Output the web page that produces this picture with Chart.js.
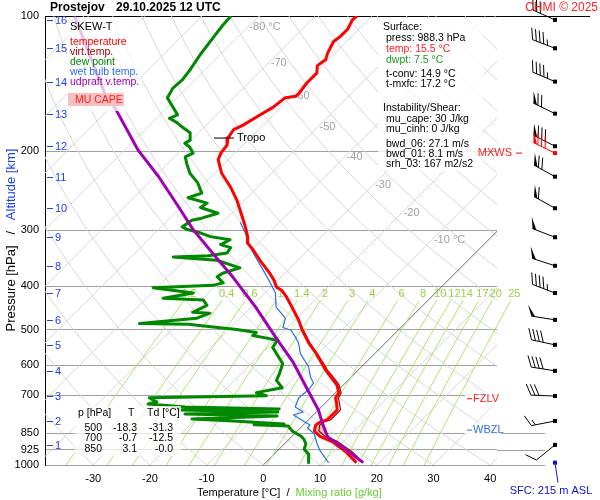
<!DOCTYPE html>
<html>
<head>
<meta charset="utf-8">
<script src="https://cdn.jsdelivr.net/npm/chart.js@4.4.1/dist/chart.umd.min.js"></script>
<style>
html, body { margin: 0; padding: 0; background: #fff; }
#wrap { width: 600px; height: 500px; }
</style>
</head>
<body>
<div id="wrap"><canvas id="skewt" width="600" height="500"></canvas></div>
<script>
// Prostejov 29.10.2025 12 UTC
const pressTicks = [100, 200, 300, 400, 500, 600, 700, 850, 925, 1000];
const tempTicks = [-30, -20, -10, 0, 10, 20, 30, 40];

const tempP = [100,102,107,111,114,121,125,129,134,141,148,151,152,160,166,175,179,187,194,202,209,224,240,257,280,292,311,320,332,350,374,387,402,408,422,445,476,500,535,563,593,614,640,664,691,709,728,754,774,794,801,815,840,862,887,934,988];
const tempT = [-62.7,-62.8,-62.0,-62.0,-62.3,-61.3,-60.5,-60.9,-59.7,-59.7,-59.3,-59.3,-60.9,-61.4,-62.3,-63.5,-64.4,-63.9,-62.8,-62.5,-61.8,-58.8,-54.9,-51.4,-47.5,-45.6,-42.9,-42.0,-39.7,-36.7,-32.7,-30.8,-29.0,-27.6,-25.6,-22.8,-19.3,-17.0,-13.5,-10.5,-7.7,-5.8,-3.3,-1.1,0.6,0.9,2.0,3.3,3.3,3.3,2.5,2.2,3.0,4.8,8.0,12.2,16.0];

const virtP = [500,535,563,593,614,640,664,691,709,728,754,774,794,801,815,840,862,887,934,988];
const virtT = [-16.8,-13.3,-10.3,-7.4,-5.5,-2.9,-0.7,1.0,1.4,2.5,3.9,3.9,3.9,3.1,2.9,3.8,5.7,9.0,13.3,17.2];

const dewP = [100,105,112,122,132,139,145,152,156,160,166,169,173,177,182,189,192,196,202,206,213,224,235,248,254,261,267,275,282,285,295,299,304,310,315,323,328,337,342,344,350,364,374,381,393,398,403,414,425,429,441,457,459,471,484,486,489,499,507,515,523,528,547,565,594,625,648,673,690,701,708,724,731,743,750,754,762,770,778,790,798,810,814,819,840,853,862,876,898,922,946,970,988];
const dewT = [-84.9,-84.7,-84.2,-83.5,-82.6,-82.2,-82.4,-81.7,-80.3,-78.9,-76.9,-77.7,-75.5,-73.8,-71.5,-70.2,-70.6,-69.0,-67.4,-68.1,-66.7,-64.4,-61.4,-58.8,-60.4,-56.1,-56.5,-52.4,-54.4,-55.8,-56.3,-54.9,-52.1,-49.6,-45.6,-46.4,-44.1,-43.8,-46.6,-52.6,-44.3,-38.9,-41.0,-41.3,-39.2,-40.6,-50.7,-42.7,-47.1,-39.7,-38.1,-39.4,-36.2,-37.6,-46.8,-38.0,-35.9,-28.6,-24.6,-24.7,-21.2,-19.5,-19.1,-17.3,-14.5,-13.3,-12.6,-10.3,-14.0,-11.7,-32.0,-29.9,-31.1,-24.0,-7.1,-24.4,-6.8,-22.8,-6.2,-20.7,-13.1,-3.6,-8.7,-2.5,-0.9,0.5,1.5,2.6,3.8,4.4,6.1,7.0,7.5];

const wetP = [288,303,320,337,362,387,414,445,471,494,501,519,535,565,605,637,657,681,709,743,762,774,794,815,826,853,898,928,960,988];
const wetT = [-46.9,-44.3,-41.8,-39.2,-35.3,-31.7,-28.2,-25.6,-22.0,-20.8,-18.9,-16.9,-15.3,-13.1,-9.3,-7.2,-5.6,-5.3,-5.6,-4.6,-2.3,-3.5,-1.2,1.2,1.2,3.5,5.8,7.4,9.4,11.1];

const updP = [100,149,160,199,228,266,299,337,381,445,519,589,673,754,810,866,912,988];
const updT = [-112.5,-93.4,-89.2,-77.6,-69.3,-60.5,-53.9,-46.4,-38.6,-29.2,-20.4,-13.0,-6.0,0.0,3.2,6.4,10.8,17.2];

const capeP = [806,825,845,866,845,825,806];
const capeT = [3.0,4.0,5.2,6.2,3.8,2.6,3.0];

// altitude scale and winds at each km
const altKm = [1,2,3,4,5,6,7,8,9,10,11,12,13,14,15,16];
const altP = [902,798,702,617,540,475,414,360,311,268,228,195,165,140,118,102];
const windP = [902,798,702,617,540,475,414,360,311,268,228,195,165,140,118,102];
const windDir = [231,259,272,279,282,279,291,288,291,299,299,297,296,293,291,294];
const windSpd = [10,15,30,40,40,50,45,50,50,60,70,80,70,45,45,30];
const mxwsP = 202, mxwsDir = 296, mxwsSpd = 80;

const mixRatios = [0.2,0.4,0.6,1,1.4,2,3,4,6,8,10,12,14,17,20,25];
const isoLblT = [-80,-70,-60,-50,-40,-30,-20,-10];
const isoLblP = [106,127,151,177,206,238,275,315];

const tropoP = 187, fzlvP = 712, wbzlP = 836, sfcP = 988;

const surfLines = [['Surface:', '#000', 0], ['press: 988.3 hPa', '#000', 1], ['temp: 15.5 °C', '#ff2020', 1], ['dwpt: 7.5 °C', '#1f9a1f', 1],
  ['t-conv: 14.9 °C', '#000', 1], ['t-mxfc: 17.2 °C', '#000', 1]];
const instLines = [['Instability/Shear:', '#000', 0], ['mu_cape: 30 J/kg', '#000', 1], ['mu_cinh: 0 J/kg', '#000', 1],
  ['bwd_06: 27.1 m/s', '#000', 1], ['bwd_01: 8.1 m/s', '#000', 1], ['srh_03: 167 m2/s2', '#000', 1]];
const tableP = [500, 700, 850];
const tableT = ['-18.3', '-0.7', '3.1'];
const tableTd = ['-31.3', '-12.5', '-0.0'];

const SKEW = 34.39;
const X_MIN = -38.5, X_MAX = 41.2;
const FONT = '"Liberation Sans", Arial, sans-serif';

function skewX(t, p) { return t + SKEW * Math.log(1000 / p); }
function pts(ps, ts) { return ps.map((p, i) => ({ x: skewX(ts[i], p), y: p })); }

function text(ctx, s, x, y, color, size, align, bold) {
  ctx.font = (bold ? 'bold ' : '') + size + 'px ' + FONT;
  ctx.fillStyle = color;
  ctx.textAlign = align || 'left';
  ctx.textBaseline = 'middle';
  ctx.fillText(s, x, y);
}

function mixTemp(w, p) {
  const e = w * p / (622 + w);
  const l = Math.log(e / 6.112);
  return 243.5 * l / (17.67 - l);
}

function drawBarb(ctx, x0, y0, dir, spd, color) {
  const r = dir * Math.PI / 180;
  const ux = Math.sin(r), uy = -Math.cos(r);
  const nx = -uy, ny = ux;
  const a = 25 * Math.PI / 180;
  const bx = nx * Math.cos(a) + ux * Math.sin(a), by = ny * Math.cos(a) + uy * Math.sin(a);
  const len = 24, bl = 12, sp = 4;
  ctx.strokeStyle = color; ctx.fillStyle = color; ctx.lineWidth = 1;
  ctx.fillRect(x0 - 2, y0 - 2, 4, 4);
  const tx = x0 + ux * len, ty = y0 + uy * len;
  ctx.beginPath(); ctx.moveTo(x0, y0); ctx.lineTo(tx, ty); ctx.stroke();
  let s = Math.round(spd / 5) * 5, pos = 0;
  while (s >= 50) {
    const ax = tx - ux * pos, ay = ty - uy * pos;
    ctx.beginPath();
    ctx.moveTo(ax, ay);
    ctx.lineTo(ax + bx * bl, ay + by * bl);
    ctx.lineTo(ax - ux * sp, ay - uy * sp);
    ctx.closePath(); ctx.fill();
    pos += sp + 1; s -= 50;
  }
  while (s >= 10) {
    const ax = tx - ux * pos, ay = ty - uy * pos;
    ctx.beginPath(); ctx.moveTo(ax, ay); ctx.lineTo(ax + bx * bl, ay + by * bl); ctx.stroke();
    pos += sp; s -= 10;
  }
  if (s >= 5) {
    if (pos === 0) pos = sp;
    const ax = tx - ux * pos, ay = ty - uy * pos;
    ctx.beginPath(); ctx.moveTo(ax, ay); ctx.lineTo(ax + bx * bl / 2, ay + by * bl / 2); ctx.stroke();
  }
}

// isotherms, dry adiabats, mixing ratio lines
const skewGrid = {
  id: 'skewGrid',
  beforeDatasetsDraw(chart) {
    const { ctx, chartArea: a, scales: { x, y } } = chart;
    const px = (t, p) => x.getPixelForValue(skewX(t, p));
    ctx.save();
    ctx.beginPath(); ctx.rect(a.left, a.top, a.right - a.left, a.bottom - a.top); ctx.clip();
    ctx.lineWidth = 1;
    ctx.strokeStyle = '#d6d6d6';
    for (let t = -130; t <= 40; t += 10) {
      if (t === 0) continue;
      ctx.beginPath(); ctx.moveTo(px(t, 1000), y.getPixelForValue(1000)); ctx.lineTo(px(t, 100), y.getPixelForValue(100)); ctx.stroke();
    }
    for (let th = -40; th <= 190; th += 10) {
      ctx.beginPath();
      for (let i = 0; i <= 40; i++) {
        const p = 1000 * Math.pow(0.1, i / 40);
        const t = (th + 273.15) * Math.pow(p / 1000, 0.2857) - 273.15;
        const X = px(t, p), Y = y.getPixelForValue(p);
        if (i === 0) ctx.moveTo(X, Y); else ctx.lineTo(X, Y);
      }
      ctx.stroke();
    }
    ctx.strokeStyle = '#666';
    ctx.beginPath(); ctx.moveTo(px(0, 1000), y.getPixelForValue(1000)); ctx.lineTo(px(0, 100), y.getPixelForValue(100)); ctx.stroke();
    ctx.restore();

    ctx.save();
    ctx.beginPath(); ctx.rect(a.left, a.top, a.right - a.left + 48, a.bottom - a.top); ctx.clip();
    ctx.strokeStyle = '#a6e86a';
    mixRatios.forEach(w => {
      ctx.beginPath();
      for (let i = 0; i <= 20; i++) {
        const p = 1000 - i * (1000 - 430) / 20;
        const X = px(mixTemp(w, p), p), Y = y.getPixelForValue(p);
        if (i === 0) ctx.moveTo(X, Y); else ctx.lineTo(X, Y);
      }
      ctx.stroke();
    });
    ctx.restore();

    ctx.save();
    mixRatios.forEach(w => {
      text(ctx, String(w), px(mixTemp(w, 416), 416), y.getPixelForValue(416), '#99d040', 11, 'center');
    });
    isoLblT.forEach((t, i) => {
      const s = (t === -80 || t === -10) ? t + ' °C' : String(t);
      text(ctx, s, px(t, isoLblP[i]) + 2, y.getPixelForValue(isoLblP[i]), '#a0a0a0', 11, 'left');
    });
    ctx.restore();
  }
};

const overlay = {
  id: 'overlay',
  afterDatasetsDraw(chart) {
    const { ctx, chartArea: a, scales: { x, y } } = chart;
    const px = (t, p) => x.getPixelForValue(skewX(t, p));
    const py = p => y.getPixelForValue(p);
    ctx.save();

    // frame extensions toward the wind column
    ctx.lineWidth = 1;
    ctx.strokeStyle = '#000';
    ctx.beginPath(); ctx.moveTo(a.right, a.top + 0.5); ctx.lineTo(a.right + 93, a.top + 0.5); ctx.stroke();
    ctx.strokeStyle = '#a0a0a0';
    [850, 925, 1000].forEach(p => {
      ctx.beginPath(); ctx.moveTo(a.right, Math.round(py(p)) + 0.5); ctx.lineTo(a.right + 48, Math.round(py(p)) + 0.5); ctx.stroke();
    });

    // legend box
    ctx.fillStyle = 'rgba(255,255,255,0.75)';
    ctx.fillRect(a.left + 22, a.top + 1, 74, 94);
    const lx = a.left + 25;
    text(ctx, 'SKEW-T', lx, 27, '#000', 11);
    [['temperature', '#ff0000'], ['virt.temp.', '#a00000'], ['dew point', '#008800'], ['wet bulb temp.', '#2a6ef0'], ['udpraft v.temp.', '#a000b4']]
      .forEach((e, i) => text(ctx, e[0], lx, 42 + i * 10, e[1], 10.5));
    ctx.fillStyle = '#f8c0c0';
    ctx.fillRect(a.left + 23, 93, 56, 13);
    text(ctx, 'MU CAPE', a.left + 30, 100, '#ff2020', 10.5);

    // surface / instability box
    ctx.fillStyle = 'rgba(255,255,255,0.8)';
    ctx.fillRect(378, a.top + 2, 105, 153);
    surfLines.forEach((e, i) => text(ctx, e[0], 383 + e[2] * 3, i < 4 ? 27 + i * 11 : 74 + (i - 4) * 10.5, e[1], 10.5));
    instLines.forEach((e, i) => text(ctx, e[0], 383 + e[2] * 3, i < 3 ? 108 + i * 10.7 : 144 + (i - 3) * 10.2, e[1], 10.5));

    // table
    ctx.fillStyle = 'rgba(255,255,255,0.75)';
    ctx.fillRect(a.left + 30, 406, 106, 50);
    text(ctx, 'p [hPa]', a.left + 33, 413, '#000', 10.5);
    text(ctx, 'T', a.left + 83, 413, '#000', 10.5);
    text(ctx, 'Td [°C]', a.left + 102, 413, '#000', 10.5);
    tableP.forEach((p, i) => {
      const ty = 428 + i * 10.5;
      text(ctx, String(p), a.left + 57, ty, '#000', 10.5, 'right');
      text(ctx, tableT[i], a.left + 92, ty, '#000', 10.5, 'right');
      text(ctx, tableTd[i], a.left + 128, ty, '#000', 10.5, 'right');
    });

    // level markers
    ctx.fillStyle = 'rgba(255,255,255,0.9)';
    ctx.fillRect(a.right - 32, py(fzlvP) - 7, 36, 14);
    ctx.fillRect(a.right - 32, py(wbzlP) - 7, 36, 14);
    ctx.lineWidth = 1;
    ctx.strokeStyle = '#ff0000';
    ctx.beginPath(); ctx.moveTo(a.right - 30, py(fzlvP)); ctx.lineTo(a.right - 25, py(fzlvP)); ctx.stroke();
    text(ctx, 'FZLV', a.right - 24, py(fzlvP), '#ff2020', 11);
    ctx.strokeStyle = '#2a6ef0';
    ctx.beginPath(); ctx.moveTo(a.right - 30, py(wbzlP)); ctx.lineTo(a.right - 25, py(wbzlP)); ctx.stroke();
    text(ctx, 'WBZL', a.right - 24, py(wbzlP), '#2a6ef0', 11);
    text(ctx, 'MXWS', a.right + 15, py(mxwsP), '#ff2020', 11, 'right');
    ctx.strokeStyle = '#ff0000';
    ctx.beginPath(); ctx.moveTo(a.right + 19, py(mxwsP)); ctx.lineTo(a.right + 25, py(mxwsP)); ctx.stroke();

    // tropopause
    const tI = tempP.indexOf(tropoP);
    const tx = px(tempT[tI], tropoP);
    ctx.strokeStyle = '#000';
    ctx.beginPath(); ctx.moveTo(tx - 14, py(tropoP)); ctx.lineTo(tx + 6, py(tropoP)); ctx.stroke();
    text(ctx, 'Tropo', tx + 9, py(tropoP), '#000', 11);

    // altitude scale
    ctx.strokeStyle = '#2040f0';
    altKm.forEach((k, i) => {
      const ay = Math.round(py(altP[i])) + 0.5;
      ctx.beginPath(); ctx.moveTo(a.left + 2, ay); ctx.lineTo(a.left + 8, ay); ctx.stroke();
      text(ctx, String(k), a.left + 10, ay, '#2040f0', 11);
    });

    // winds
    const wx = a.right + 58;
    windP.forEach((p, i) => drawBarb(ctx, wx, py(p), windDir[i], windSpd[i], '#000'));
    drawBarb(ctx, wx, py(mxwsP), mxwsDir, mxwsSpd, '#ff0000');
    ctx.fillStyle = '#1010e0';
    ctx.fillRect(wx - 2, py(sfcP) - 2, 4, 4);
    ctx.strokeStyle = '#1010e0';
    ctx.beginPath(); ctx.moveTo(wx, py(sfcP)); ctx.lineTo(wx + 3, py(sfcP) + 20); ctx.stroke();
    text(ctx, 'SFC: 215 m ASL', wx - 4, 491, '#1010e0', 11, 'center');

    // titles
    text(ctx, 'Prostejov', 50, 8, '#000', 12, 'left', true);
    text(ctx, '29.10.2025 12 UTC', 116, 8, '#000', 12, 'left', true);
    text(ctx, 'CHMI © 2025', 598, 8, '#ff2020', 12, 'right');

    ctx.font = '11px ' + FONT;
    let bx = 197;
    text(ctx, 'Temperature [°C]  /', bx, 493, '#000', 11);
    bx += ctx.measureText('Temperature [°C]  /  ').width;
    text(ctx, 'Mixing ratio [g/kg]', bx, 493, '#66cc33', 11);

    ctx.translate(11, 240);
    ctx.rotate(-Math.PI / 2);
    ctx.font = '13px ' + FONT;
    const s1 = 'Pressure [hPa]', s2 = '   /   ', s3 = 'Altitude [km]';
    const w1 = ctx.measureText(s1).width, w2 = ctx.measureText(s2).width, w3 = ctx.measureText(s3).width;
    let sx = -(w1 + w2 + w3) / 2;
    text(ctx, s1, sx, 0, '#000', 13); sx += w1;
    text(ctx, s2, sx, 0, '#000', 13); sx += w2;
    text(ctx, s3, sx, 0, '#2040f0', 13);
    ctx.restore();
  }
};

const line = { showLine: true, pointRadius: 0, borderJoinStyle: 'round', tension: 0, fill: false };

new Chart(document.getElementById('skewt'), {
  type: 'scatter',
  data: {
    datasets: [
      { ...line, label: 'udpraft v.temp.', data: pts(updP, updT), borderColor: '#a000b4', borderWidth: 3 },
      { ...line, label: 'temperature', data: pts(tempP, tempT), borderColor: '#ff0000', borderWidth: 3 },
      { ...line, label: 'virt.temp.', data: pts(virtP, virtT), borderColor: '#a00000', borderWidth: 1.2 },
      { ...line, label: 'dew point', data: pts(dewP, dewT), borderColor: '#008800', borderWidth: 3 },
      { ...line, label: 'wet bulb temp.', data: pts(wetP, wetT), borderColor: '#2a6ef0', borderWidth: 1.2 },
      { ...line, label: 'MU CAPE', data: pts(capeP, capeT), borderWidth: 0, borderColor: 'rgba(0,0,0,0)', backgroundColor: 'rgba(245,170,170,0.7)', fill: 'shape' }
    ]
  },
  options: {
    responsive: false,
    animation: false,
    layout: { padding: { top: 16, right: 103, left: 0, bottom: 0 } },
    plugins: { legend: { display: false }, tooltip: { enabled: false }, title: { display: false } },
    scales: {
      x: {
        type: 'linear', min: X_MIN, max: X_MAX,
        afterBuildTicks: ax => { ax.ticks = tempTicks.map(v => ({ value: v })); },
        afterFit: ax => { ax.height = 35; },
        grid: { display: false, drawTicks: false },
        border: { display: false },
        ticks: { color: '#000', font: { family: FONT, size: 11 }, padding: 7, maxRotation: 0 }
      },
      y: {
        type: 'logarithmic', reverse: true, min: 100, max: 1000,
        afterBuildTicks: ax => { ax.ticks = pressTicks.map(v => ({ value: v })); },
        afterFit: ax => { ax.width = 45; },
        grid: { color: ctx => (ctx.tick && ctx.tick.value === 100 ? '#000' : '#a0a0a0'), lineWidth: 1, drawTicks: false },
        border: { color: '#000', width: 1 },
        ticks: { color: '#000', font: { family: FONT, size: 11 }, padding: 6, autoSkip: false, callback: v => String(v) }
      }
    }
  },
  plugins: [skewGrid, overlay]
});
</script>
</body>
</html>
